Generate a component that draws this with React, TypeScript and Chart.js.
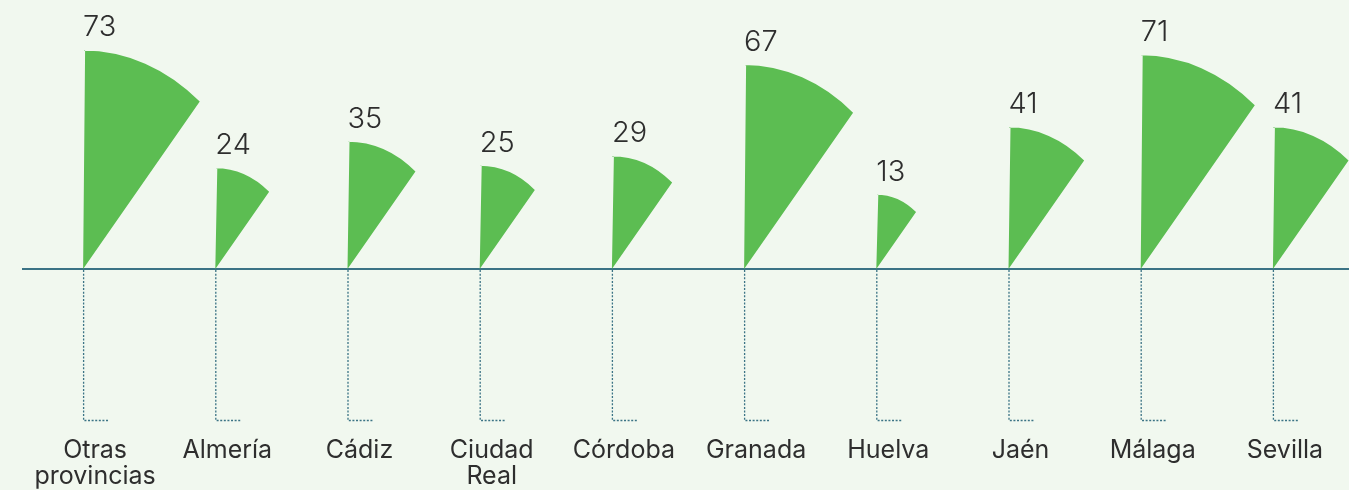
import React, { useEffect, useRef } from "react";
import { Chart, registerables } from "chart.js";

Chart.register(...registerables);

const categories: (string | string[])[] = [
  ["Otras", "provincias"],
  "Almería",
  "Cádiz",
  ["Ciudad", "Real"],
  "Córdoba",
  "Granada",
  "Huelva",
  "Jaén",
  "Málaga",
  "Sevilla",
];
const values = [73, 24, 35, 25, 29, 67, 13, 41, 71, 41];

const SECTOR_ORIGIN = -18; // value at which the sector radius is zero (baseline)
const Y_MIN = -81;
const Y_MAX = 94;

const GREEN = "#5cbd52";
const BG = "#f1f8ef";
const TEAL = "#3b7385";
const TEXT = "#2e2e2e";

const sectorPlugin = {
  id: "sectors",
  afterDatasetsDraw(chart: any) {
    const ctx = chart.ctx as CanvasRenderingContext2D;
    const meta = chart.getDatasetMeta(0);
    const area = chart.chartArea;
    const yBase = chart.scales.y.getPixelForValue(SECTOR_ORIGIN);
    ctx.save();
    // baseline
    ctx.strokeStyle = TEAL;
    ctx.lineWidth = 2;
    ctx.setLineDash([]);
    ctx.beginPath();
    ctx.moveTo(area.left + 5, yBase);
    ctx.lineTo(chart.width, yBase);
    ctx.stroke();

    meta.data.forEach((el: any, i: number) => {
      const { x, y } = el.getProps(["x", "y"], true);
      const r = yBase - y;
      const rx = r * 0.83;
      const t = (40 * Math.PI) / 180;
      // sector
      ctx.fillStyle = GREEN;
      ctx.beginPath();
      ctx.moveTo(x, yBase);
      ctx.lineTo(x + 2, y);
      ctx.ellipse(x, yBase, rx, r, 0, -Math.PI / 2, -Math.PI / 2 + t);
      ctx.closePath();
      ctx.fill();

      // dotted leader
      ctx.strokeStyle = TEAL;
      ctx.lineWidth = 1.3;
      ctx.setLineDash([2, 1.6]);
      ctx.beginPath();
      ctx.moveTo(x + 0.5, yBase + 1);
      ctx.lineTo(x + 0.5, area.bottom);
      ctx.lineTo(x + 25, area.bottom);
      ctx.stroke();
      ctx.setLineDash([]);

      // value label
      ctx.fillStyle = TEXT;
      ctx.font = "300 29px Inter";
      ctx.textAlign = "left";
      ctx.textBaseline = "alphabetic";
      ctx.fillText(String(values[i]), x, y - 14);
    });
    ctx.restore();
  },
};

export default function App() {
  const ref = useRef<HTMLCanvasElement | null>(null);
  useEffect(() => {
    document.body.style.margin = "0";
    document.body.style.background = BG;
    const chart = new Chart(ref.current as HTMLCanvasElement, {
      type: "bar",
      data: {
        labels: categories,
        datasets: [
          {
            data: values,
            base: SECTOR_ORIGIN,
            backgroundColor: "rgba(0,0,0,0)",
            borderWidth: 0,
            barPercentage: 0.05,
          } as any,
        ],
      },
      options: {
        animation: false,
        responsive: false,
        layout: { padding: { left: 17, right: 10, top: 0, bottom: -9 } },
        plugins: { legend: { display: false }, tooltip: { enabled: false } },
        scales: {
          x: {
            offset: true,
            grid: { display: false },
            border: { display: false },
            ticks: {
              autoSkip: false,
              maxRotation: 0,
              labelOffset: 12,
              padding: 9,
              color: TEXT,
              font: { family: "Inter", size: 25, weight: "normal", lineHeight: 1.05 },
            },
          },
          y: {
            display: false,
            min: Y_MIN,
            max: Y_MAX,
          },
        },
      },
      plugins: [sectorPlugin],
    });
    return () => chart.destroy();
  }, []);
  return (
    <div style={{ width: 1349, height: 490, background: BG }}>
      <canvas ref={ref} width={1349} height={490} />
    </div>
  );
}
